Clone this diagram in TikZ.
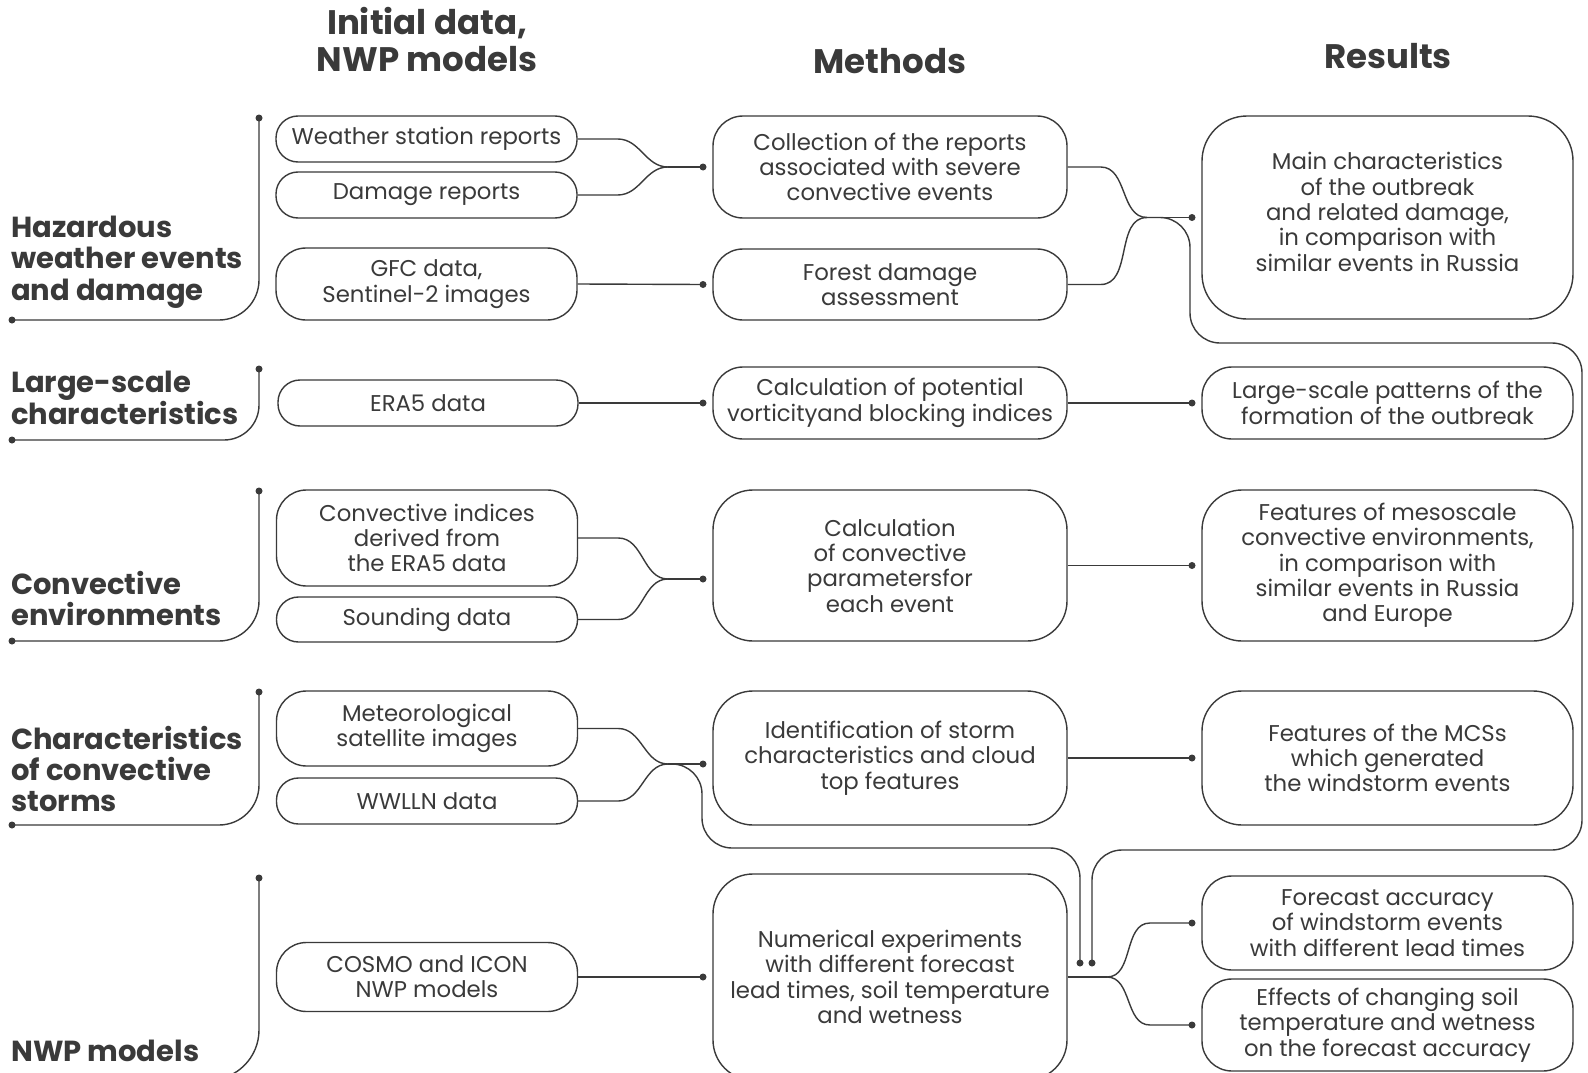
\documentclass[tikz,border=0pt]{standalone}
\usepackage{fontspec}
\setmainfont{Poppins}
\definecolor{ink}{HTML}{3A3A3A}
\tikzset{
  box/.style={draw=ink, line width=1.4pt, rounded corners=22pt, align=center, inner sep=0pt,
    font=\fontsize{22.8}{25.3}\selectfont, text=ink},
  mbox/.style={box, rounded corners=30pt},
  bigbox/.style={box, rounded corners=40pt},
  conn/.style={draw=ink, line width=1.4pt},
  dot/.style={circle, fill=ink, inner sep=0pt, minimum size=7pt},
  lab/.style={font=\bfseries\fontsize{29}{31.3}\selectfont, text=ink, align=left, anchor=west, inner sep=0pt},
  head/.style={font=\bfseries\fontsize{34}{37}\selectfont, text=ink, align=center, inner sep=0pt}
}
\begin{document}
\begin{tikzpicture}[x=1pt,y=-1pt]
\useasboundingbox (0,0) rectangle (1588,1073);
\clip (0,0) rectangle (1588,1073);
\fill[white] (0,0) rectangle (1588,1073);

% headers
\node[head] (h1) at (427,40) {Initial data,\\NWP models};
\node[head] (h2) at (890,61) {Methods};
\node[head] (h3) at (1388,56) {Results};

% left labels
\node[lab] (l1) at (11,262) {Hazardous\\weather events\\and damage};
\node[lab] (l2) at (11,398) {Large-scale\\characteristics};
\node[lab] (l3) at (11,598.5) {Convective\\environments};
\node[lab] (l4) at (11,769) {Characteristics\\of convective\\storms};
\node[lab] (l5) at (11,1051) {NWP models};

% brackets
\node[dot] (b1t) at (259,118) {}; \node[dot] (b1b) at (12,320) {};
\node[dot] (b2t) at (259,369) {}; \node[dot] (b2b) at (12,440) {};
\node[dot] (b3t) at (259,491) {}; \node[dot] (b3b) at (12,641) {};
\node[dot] (b4t) at (259,692) {}; \node[dot] (b4b) at (12,825) {};
\node[dot] (b5t) at (259,878) {};
\coordinate (b5b) at (12,1080);
\draw[conn, rounded corners=40pt] (b1t.center) |- (b1b.center);
\draw[conn, rounded corners=35pt] (b2t.center) |- (b2b.center);
\draw[conn, rounded corners=40pt] (b3t.center) |- (b3b.center);
\draw[conn, rounded corners=40pt] (b4t.center) |- (b4b.center);
\draw[conn, rounded corners=50pt] (b5t.center) |- (b5b);

% column 1
\node[box, minimum width=301pt, minimum height=46pt] (ws) at (426.5,139) {Weather station reports};
\node[box, minimum width=301pt, minimum height=46pt] (dr) at (426.5,195) {Damage reports};
\node[mbox, minimum width=301pt, minimum height=72pt] (gfc) at (426.5,284) {GFC data,\\Sentinel-2 images};
\node[box, minimum width=300pt, minimum height=46pt] (era) at (428,403) {ERA5 data};
\node[mbox, minimum width=301pt, minimum height=96pt] (ci) at (427,538) {Convective indices\\derived from\\the ERA5 data};
\node[box, minimum width=301pt, minimum height=45pt] (sd) at (427,619.5) {Sounding data};
\node[mbox, minimum width=301pt, minimum height=75pt] (ms) at (427,728.5) {Meteorological\\satellite images};
\node[box, minimum width=301pt, minimum height=46pt] (ww) at (427,801) {WWLLN data};
\node[mbox, minimum width=301pt, minimum height=69pt] (cosmo) at (427,977) {COSMO and ICON\\NWP models};

% column 2
\node[mbox, minimum width=354pt, minimum height=102pt] (coll) at (890,167) {Collection of the reports\\associated with severe\\convective events};
\node[mbox, minimum width=354pt, minimum height=71pt] (fd) at (890,284.5) {Forest damage\\assessment};
\node[mbox, minimum width=354pt, minimum height=72pt] (pv) at (890,403) {Calculation of potential\\vorticityand blocking indices};
\node[bigbox, minimum width=354pt, minimum height=151pt] (cc) at (890,565.5) {Calculation\\of convective\\parametersfor\\each event};
\node[bigbox, minimum width=354pt, minimum height=134pt] (id) at (890,758) {Identification of storm\\characteristics and cloud\\top features};
\node[bigbox, minimum width=354pt, minimum height=206pt] (num) at (890,977) {Numerical experiments\\with different forecast\\lead times, soil temperature\\and wetness};

% column 3
\node[bigbox, rounded corners=45pt, minimum width=371pt, minimum height=203pt] (mc) at (1387.5,217.5) {};
\node[text=ink, align=center, inner sep=0pt, font=\fontsize{22.8}{25.3}\selectfont] (mct) at (1387.5,212) {Main characteristics\\of the outbreak\\and related damage,\\in comparison with\\similar events in Russia};
\node[mbox, minimum width=371pt, minimum height=72pt] (lp) at (1387.5,403) {Large-scale patterns of the\\formation of the outbreak};
\node[bigbox, minimum width=371pt, minimum height=151pt] (fm) at (1387.5,565.5) {Features of mesoscale\\convective environments,\\in comparison with\\similar events in Russia\\and Europe};
\node[bigbox, minimum width=371pt, minimum height=134pt] (mcs) at (1387.5,758) {Features of the MCSs\\which generated\\the windstorm events};
\node[mbox, minimum width=371pt, minimum height=94pt] (fa) at (1387.5,923) {Forecast accuracy\\of windstorm events\\with different lead times};
\node[mbox, minimum width=371pt, minimum height=92pt] (ef) at (1387.5,1025) {Effects of changing soil\\temperature and wetness\\on the forecast accuracy};

% dots
\node[dot] (d1) at (703,167) {};
\node[dot] (d2) at (703,284.5) {};
\node[dot] (d3) at (1192,217.5) {};
\node[dot] (d4) at (703,403) {};
\node[dot] (d5) at (1192,403) {};
\node[dot] (d6) at (703,579) {};
\node[dot] (d7) at (1192,565.5) {};
\node[dot] (d8) at (703,764) {};
\node[dot] (d9) at (1092,963) {};
\node[dot] (d10) at (1080,963) {};
\node[dot] (d11) at (1192,758) {};
\node[dot] (d12) at (703,977) {};
\node[dot] (d13) at (1192,923) {};
\node[dot] (d14) at (1192,1025) {};

% merge points
\coordinate (m1) at (668,167);
\coordinate (m2) at (1147,217.5);
\coordinate (m3) at (668,579);
\coordinate (m4) at (668,764);
\coordinate (s1) at (1107,977);

% connectors
\draw[conn] (ws.east) -- ++(40,0) to[out=0,in=180] (m1);
\draw[conn] (dr.east) -- ++(40,0) to[out=0,in=180] (m1);
\draw[conn] (m1) -- (d1.center);
\draw[conn] (gfc.east) -- (d2.center);
\draw[conn] (coll.east) -- ++(33,0) to[out=0,in=180] (m2);
\draw[conn] (fd.east) -- ++(33,0) to[out=0,in=180] (m2);
\draw[conn] (m2) -- (d3.center);
\draw[conn, rounded corners=30pt] (m2) -| (1190,343) -| (1582,850) -| (d9.center);
\draw[conn] (era.east) -- (d4.center);
\draw[conn] (pv.east) -- (d5.center);
\draw[conn] (ci.east) -- ++(40,0) to[out=0,in=180] (m3);
\draw[conn] (sd.east) -- ++(40,0) to[out=0,in=180] (m3);
\draw[conn] (m3) -- (d6.center);
\draw[conn] (cc.east) -- (d7.center);
\draw[conn] (ms.east) -- ++(40,0) to[out=0,in=180] (m4);
\draw[conn] (ww.east) -- ++(40,0) to[out=0,in=180] (m4);
\draw[conn] (m4) -- (d8.center);
\draw[conn, rounded corners=30pt] (m4) -| (702,848) -| (d10.center);
\draw[conn] (id.east) -- (d11.center);
\draw[conn] (cosmo.east) -- (d12.center);
\draw[conn] (num.east) -- (s1);
\draw[conn] (s1) to[out=0,in=180] (1150,923) -- (d13.center);
\draw[conn] (s1) to[out=0,in=180] (1150,1025) -- (d14.center);
\end{tikzpicture}
\end{document}
